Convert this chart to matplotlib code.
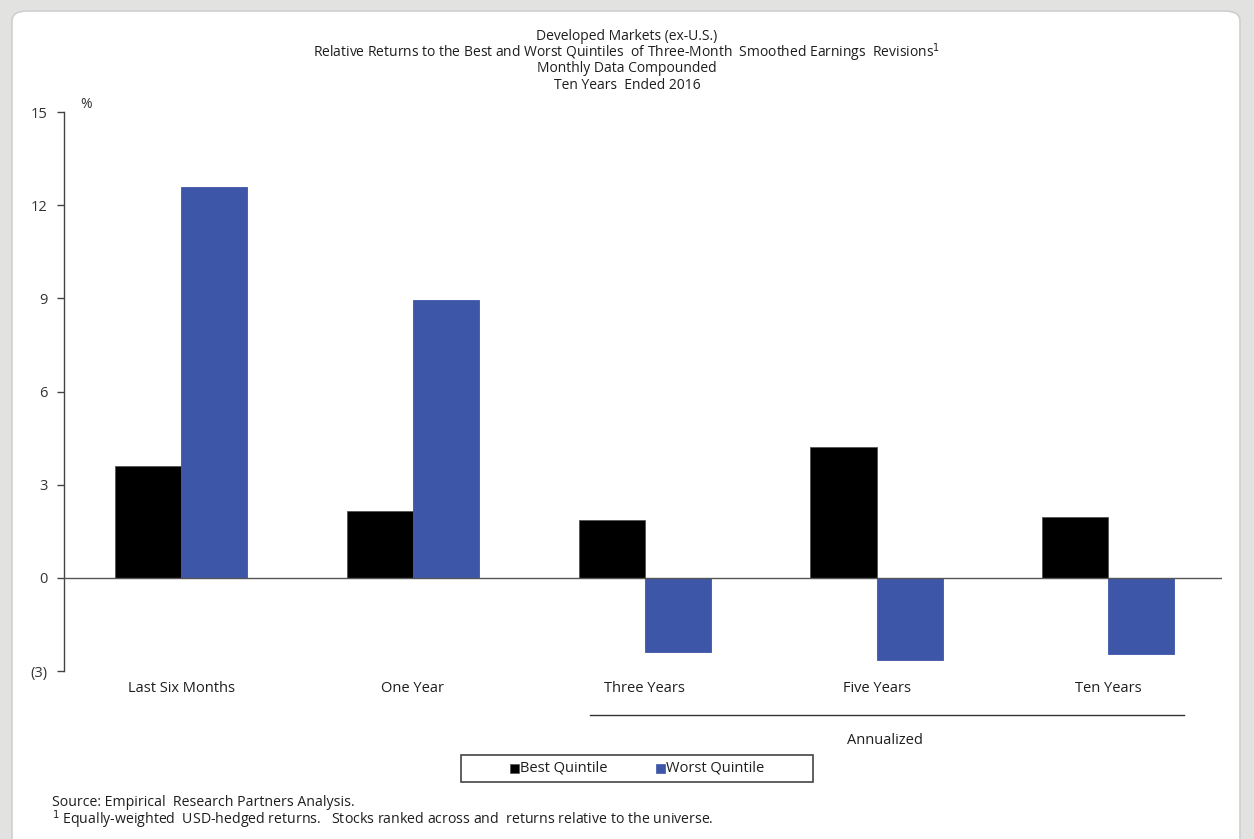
import matplotlib
matplotlib.use("Agg")
import matplotlib.pyplot as plt
from matplotlib.patches import FancyBboxPatch, Rectangle
import numpy as np

plt.rcParams['font.family'] = ['Open Sans', 'DejaVu Sans']

categories = ["Last Six Months", "One Year", "Three Years", "Five Years", "Ten Years"]
best_quintile = [3.6, 2.15, 1.87, 4.2, 1.97]
worst_quintile = [12.6, 8.95, -2.4, -2.65, -2.45]
y_ticks = [-3, 0, 3, 6, 9, 12, 15]
y_tick_labels = ["(3)", "0", "3", "6", "9", "12", "15"]

title_lines = [
    "Developed Markets (ex-U.S.)",
    "Relative Returns to the Best and Worst Quintiles  of Three-Month  Smoothed Earnings  Revisions$^1$",
    "Monthly Data Compounded",
    "Ten Years  Ended 2016",
]

BLACK = "#000000"
BLUE = "#3d56a8"
TXT = "#1e1e1e"

fig = plt.figure(figsize=(12.54, 8.39), dpi=100)
fig.patch.set_facecolor("#e2e2e0")

# white rounded panel behind the chart
panel = FancyBboxPatch((12 / 1254, -0.05), 1228 / 1254, 1 - 11 / 839 + 0.05,
                       boxstyle="round,pad=0,rounding_size=0.012",
                       transform=fig.transFigure, facecolor="white",
                       edgecolor="#cfcfcf", linewidth=1.2, zorder=-10)
fig.patches.append(panel)

ax = fig.add_axes([64 / 1254, 1 - 671 / 839, (1222 - 64) / 1254, (671 - 112) / 839])
ax.set_facecolor("none")
ax.set_zorder(1)

x = np.arange(len(categories))
w = 0.285
ax.bar(x - w / 2, best_quintile, width=w, color=BLACK, edgecolor="#555555", linewidth=0.6, zorder=2)
ax.bar(x + w / 2, worst_quintile, width=w, color=BLUE, edgecolor=BLUE, linewidth=0.6, zorder=2)

ax.axhline(0, color="#555555", linewidth=1.0, zorder=3)

ax.set_xlim(-0.505, 4.49)
ax.set_ylim(-3, 15)
ax.set_yticks(y_ticks)
ax.set_yticklabels(y_tick_labels, fontsize=10.5, color="#333333")
ax.tick_params(axis="y", direction="out", length=5, width=1, color="#444444", pad=7)
ax.set_xticks([])

for s in ["top", "right", "bottom"]:
    ax.spines[s].set_visible(False)
ax.spines["left"].set_color("#444444")
ax.spines["left"].set_linewidth(1.0)

fig.text(86 / 1254, 1 - 104 / 839, "%", fontsize=10, color="#333333",
         ha="center", va="center")

# category labels below the axes
for i, c in enumerate(categories):
    ax.annotate(c, xy=(i, 0), xycoords=("data", "figure fraction"),
                xytext=(0, 1 - 689 / 839), textcoords=("offset points", "figure fraction"),
                ha="center", va="center", fontsize=10.5, color=TXT)

# "Annualized" bracket
fig.add_artist(plt.Line2D([590 / 1254, 1184 / 1254], [1 - 715 / 839] * 2,
                          color="#333333", linewidth=1.0, transform=fig.transFigure))
fig.text(885 / 1254, 1 - 740 / 839, "Annualized", ha="center", va="center",
         fontsize=10.5, color=TXT)

# legend box
fig.patches.append(Rectangle((461 / 1254, 1 - 782 / 839), (813 - 461) / 1254, 27 / 839,
                             transform=fig.transFigure, facecolor="white",
                             edgecolor="#444444", linewidth=1.2, zorder=2))
fig.patches.append(Rectangle((510 / 1254, 1 - 773 / 839), 9 / 1254, 9 / 839,
                             transform=fig.transFigure, facecolor=BLACK,
                             edgecolor="#555555", linewidth=0.5, zorder=3))
fig.text(520 / 1254, 1 - 768.5 / 839, "Best Quintile", ha="left", va="center",
         fontsize=10.5, color=TXT)
fig.patches.append(Rectangle((656 / 1254, 1 - 773 / 839), 9 / 1254, 9 / 839,
                             transform=fig.transFigure, facecolor=BLUE,
                             edgecolor=BLUE, linewidth=0.5, zorder=3))
fig.text(666 / 1254, 1 - 768.5 / 839, "Worst Quintile", ha="left", va="center",
         fontsize=10.5, color=TXT)

# titles
for i, line in enumerate(title_lines):
    fig.text(627 / 1254, 1 - (36 + i * 16.4) / 839, line, ha="center", va="center",
             fontsize=10, color=TXT)

fig.text(52 / 1254, 1 - 803 / 839, "Source: Empirical  Research Partners Analysis.",
         ha="left", va="center", fontsize=10.2, color=TXT)
fig.text(52 / 1254, 1 - 820 / 839,
         "$^1$ Equally-weighted  USD-hedged returns.   Stocks ranked across and  returns relative to the universe.",
         ha="left", va="center", fontsize=10.2, color=TXT)

fig.savefig("out.png", dpi=100)
